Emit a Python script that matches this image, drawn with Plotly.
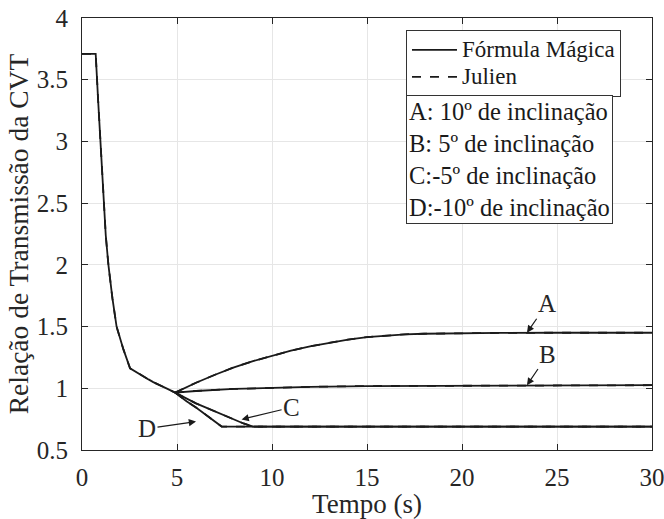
import plotly.graph_objects as go

# Common initial segment (all inclinations)
t_common = [0, 0.72, 0.85, 0.97, 1.1, 1.25, 1.39, 1.6, 1.82, 2.0, 2.18, 2.53, 3.0, 3.5, 3.75, 4.0, 4.5, 4.9]
v_common = [3.71, 3.71, 3.33, 3.0, 2.57, 2.24, 2.0, 1.73, 1.50, 1.40, 1.315, 1.162, 1.115, 1.072, 1.05,
            1.03, 0.995, 0.965]

# Branches after t = 4.9 s
t_A = [4.9, 5.5, 6, 7, 8, 9, 10, 11, 12, 13, 14, 15, 16, 17, 18, 19, 20, 22, 25, 30]
v_A = [0.965, 1.01, 1.045, 1.11, 1.17, 1.22, 1.265, 1.305, 1.34, 1.37, 1.395, 1.415, 1.428, 1.437,
       1.442, 1.445, 1.447, 1.449, 1.45, 1.45]
t_B = [4.9, 6, 8, 10, 12, 15, 20, 25, 30]
v_B = [0.965, 0.978, 0.995, 1.005, 1.012, 1.018, 1.022, 1.024, 1.025]
t_C = [4.9, 5.5, 6, 6.5, 7, 7.5, 8, 8.5, 9, 30]
v_C = [0.965, 0.915, 0.878, 0.845, 0.812, 0.778, 0.745, 0.715, 0.69, 0.69]
t_D = [4.9, 5.5, 6, 6.5, 7, 7.35, 30]
v_D = [0.965, 0.895, 0.845, 0.785, 0.725, 0.69, 0.69]

# Julien model (overlaps the formula curves)
julien_series = [(t_common, v_common), (t_A, v_A), (t_B, v_B), (t_C, v_C), (t_D, v_D)]
formula_series = [(t_common, v_common), (t_A, v_A), (t_B, v_B), (t_C, v_C), (t_D, v_D)]

x_ticks = [0, 5, 10, 15, 20, 25, 30]
y_ticks = [0.5, 1, 1.5, 2, 2.5, 3, 3.5, 4]

curve_labels = ["A", "B", "C", "D"]
label_heads = [(23.42, 1.45), (23.42, 1.025), (8.4, 0.748), (6.0, 0.73)]
label_offsets = [(20, -29), (21, -31), (50, -12), (-49, 7)]

legend_names = ["Fórmula Mágica", "Julien"]
legend_box_text = ["A: 10º de inclinação", "B: 5º de inclinação",
                   "C:-5º de inclinação", "D:-10º de inclinação"]

FONT = "Liberation Serif, Times New Roman, serif"
LC = "#1a1a1a"


def leg(name):
    return '<span style="font-size:23px">' + name + '</span>'


fig = go.Figure()
for i, (tx, vy) in enumerate(formula_series):
    fig.add_trace(go.Scatter(x=tx, y=vy, mode="lines", name=leg(legend_names[0]),
                             line=dict(color=LC, width=1.8), showlegend=(i == 0),
                             legendgroup="f"))
for i, (tx, vy) in enumerate(julien_series):
    fig.add_trace(go.Scatter(x=tx, y=vy, mode="lines", name=leg(legend_names[1]),
                             line=dict(color=LC, width=1.8, dash="dash"), showlegend=(i == 0),
                             legendgroup="j"))

for lab, (hx, hy), (ax, ay) in zip(curve_labels, label_heads, label_offsets):
    fig.add_annotation(x=hx, y=hy, text=lab, showarrow=True, ax=ax, ay=ay,
                       arrowhead=2, arrowsize=1.2, arrowwidth=1.2, arrowcolor=LC,
                       font=dict(family=FONT, size=25, color="#262626"))

fig.add_annotation(xref="paper", yref="paper", x=0.5684, y=0.821, xanchor="left", yanchor="top",
                   text="<br>".join(legend_box_text), showarrow=False, align="left",
                   font=dict(family=FONT, size=24.5, color="#1a1a1a"),
                   bordercolor="#333333", borderwidth=1, borderpad=2, bgcolor="white")

axis_common = dict(showline=True, linecolor="#262626", linewidth=1, mirror="allticks",
                   ticks="inside", ticklen=6, tickcolor="#262626", showgrid=True,
                   gridcolor="#e6e6e6", gridwidth=1, zeroline=False, automargin=False,
                   ticklabeloverflow="allow",
                   tickfont=dict(family=FONT, size=25, color="#262626"))

fig.update_xaxes(range=[0, 30], tickvals=x_ticks, ticklabelstandoff=5,
                 title=dict(text="Tempo (s)", font=dict(family=FONT, size=27, color="#262626"),
                            standoff=5),
                 **axis_common)
fig.update_yaxes(range=[0.5, 4], tickvals=y_ticks, ticklabelstandoff=8,
                 title=dict(text="Relação de Transmissão da CVT",
                            font=dict(family=FONT, size=27.5, color="#262626"), standoff=0),
                 **axis_common)

fig.update_layout(width=664, height=519, autosize=False,
                  margin=dict(l=82, r=12, t=17.5, b=68.5),
                  plot_bgcolor="white", paper_bgcolor="white",
                  legend=dict(x=0.5684, y=0.9715, xanchor="left", yanchor="top",
                              bordercolor="#333333", borderwidth=1, bgcolor="white",
                              font=dict(family=FONT, size=18.5, color="#1a1a1a"),
                              tracegroupgap=0, itemwidth=45))

fig.write_html("out.html")
